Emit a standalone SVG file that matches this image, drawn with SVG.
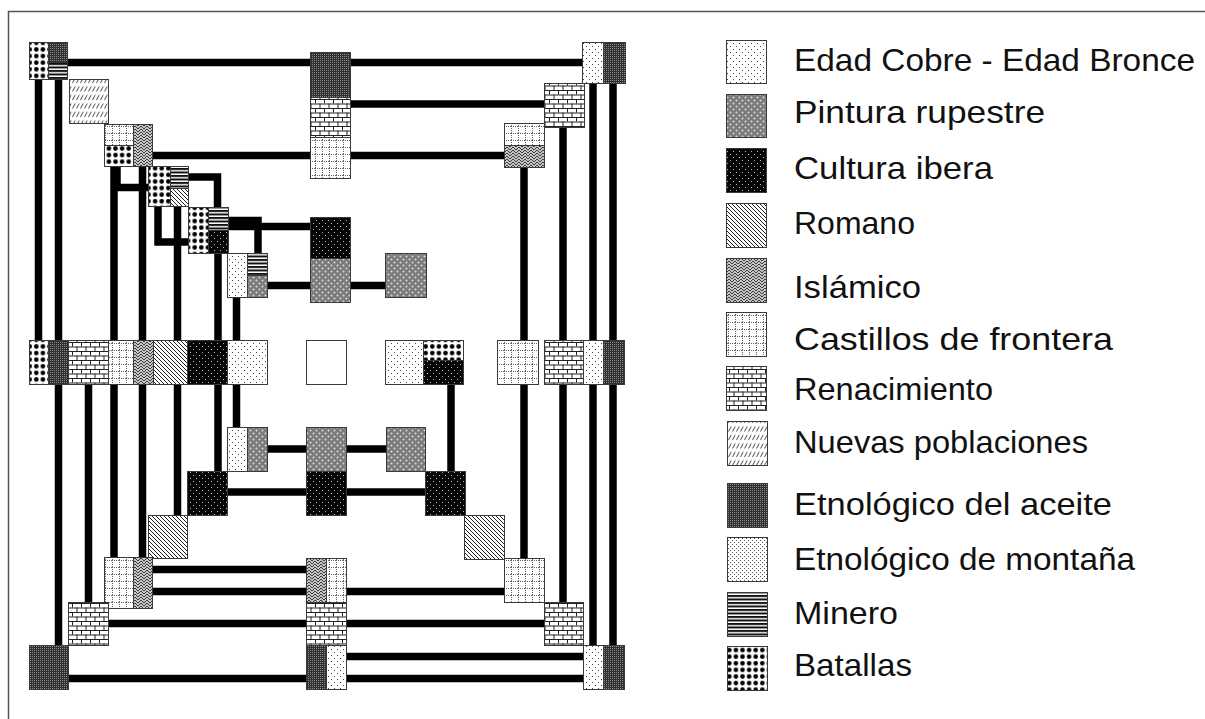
<svg xmlns="http://www.w3.org/2000/svg" width="1205" height="719" viewBox="0 0 1205 719">
<defs>
<pattern id="p-cobre" width="6" height="6" patternUnits="userSpaceOnUse"><rect width="6" height="6" fill="#fff"/><rect x="1" y="1" width="1" height="1" fill="#444"/><rect x="4" y="4" width="1" height="1" fill="#444"/></pattern>
<pattern id="p-montana" width="4" height="4" patternUnits="userSpaceOnUse"><rect width="4" height="4" fill="#fff"/><rect x="0" y="0" width="1" height="1" fill="#555"/><rect x="2" y="2" width="1" height="1" fill="#555"/></pattern>
<pattern id="p-pintura" width="6" height="6" patternUnits="userSpaceOnUse"><rect width="6" height="6" fill="#7a7a7a"/><circle cx="1.5" cy="1.5" r="1" fill="#dcdcdc"/><circle cx="4.5" cy="4.5" r="1" fill="#dcdcdc"/></pattern>
<pattern id="p-ibera" width="6" height="6" patternUnits="userSpaceOnUse"><rect width="6" height="6" fill="#050505"/><rect x="1" y="1" width="1" height="1" fill="#bbb"/><rect x="4" y="4" width="1" height="1" fill="#bbb"/></pattern>
<pattern id="p-romano" width="4" height="4" patternUnits="userSpaceOnUse"><rect width="4" height="4" fill="#fff"/><path d="M0 0L4 4M-1 3L1 5M3 -1L5 1" stroke="#222" stroke-width="1"/></pattern>
<pattern id="p-islamico" width="6" height="6" patternUnits="userSpaceOnUse"><rect width="6" height="6" fill="#c4c4c4"/><path d="M0 3L3 0L6 3M0 6L3 3L6 6" fill="none" stroke="#3c3c3c" stroke-width="1"/></pattern>
<pattern id="p-castillos" width="7" height="7" patternUnits="userSpaceOnUse"><rect width="7" height="7" fill="#fff"/><path d="M0 0.5H7M0.5 0V7" stroke="#666" stroke-width="1" stroke-dasharray="1 1"/></pattern>
<pattern id="p-renac" width="9" height="9" patternUnits="userSpaceOnUse"><rect width="9" height="9" fill="#fff"/><path d="M0 0.5H9M0 5H9M0.5 0V4.5M5 4.5V9" stroke="#222" stroke-width="1" fill="none"/></pattern>
<pattern id="p-nuevas" width="4" height="8.5" patternUnits="userSpaceOnUse"><rect width="4" height="8.5" fill="#fff"/><path d="M0.5 6.5L3.2 1.5" stroke="#333" stroke-width="0.9"/></pattern>
<pattern id="p-aceite" width="2" height="2" patternUnits="userSpaceOnUse"><rect width="2" height="2" fill="#303030"/><rect width="1" height="1" fill="#8a8a8a"/></pattern>
<pattern id="p-minero" width="4" height="3.5" patternUnits="userSpaceOnUse"><rect width="4" height="3.5" fill="#fff"/><rect width="4" height="2" fill="#111"/></pattern>
<pattern id="p-batallas" width="6.6" height="6.6" patternUnits="userSpaceOnUse"><rect width="6.6" height="6.6" fill="#fff"/><circle cx="3.3" cy="3.3" r="2.3" fill="#000"/></pattern>
</defs>
<style>
.t{stroke:#3a3a3a;stroke-width:1}
.cob{fill:url(#p-cobre)}
.mon{fill:url(#p-montana)}
.pin{fill:url(#p-pintura)}
.ibe{fill:url(#p-ibera)}
.rom{fill:url(#p-romano)}
.isl{fill:url(#p-islamico)}
.cas{fill:url(#p-castillos)}
.ren{fill:url(#p-renac)}
.nue{fill:url(#p-nuevas)}
.ace{fill:url(#p-aceite)}
.min{fill:url(#p-minero)}
.bat{fill:url(#p-batallas)}
.wht{fill:#fff}
.bar{stroke:#000;stroke-width:7.5;fill:none;stroke-linecap:butt;stroke-linejoin:miter}
.lg{font-family:"Liberation Sans",Arial,sans-serif;font-size:32px;fill:#111}
</style>
<rect width="1205" height="719" fill="#fff"/>
<path d="M1205 11.5H8.5V719" fill="none" stroke="#555" stroke-width="1.5"/>

<g id="connectors" class="bar">
<path d="M60 62.5H600"/>
<path d="M340 104H560"/>
<path d="M150 155.5H510"/>
<path d="M38.5 78V345"/>
<path d="M58.5 78V650"/>
<path d="M114 160V560"/>
<path d="M142.5 160V560"/>
<path d="M117 166V187.5H150"/>
<path d="M177.5 200V520"/>
<path d="M158 200V242H192"/>
<path d="M185 177H217.5V210"/>
<path d="M218 250V475"/>
<path d="M225 220.5H258V256"/>
<path d="M225 226.5H315"/>
<path d="M236.5 290V430"/>
<path d="M262 285.5H390"/>
<path d="M88.5 380V605"/>
<path d="M593 80V650"/>
<path d="M613 80V650"/>
<path d="M563 120V605"/>
<path d="M524 160V562"/>
<path d="M451 380V475"/>
<path d="M262 449H390"/>
<path d="M222 492H430"/>
<path d="M148 569.5H310"/>
<path d="M148 591.5H508"/>
<path d="M104 623.5H548"/>
<path d="M340 656.5H588"/>
<path d="M64 678.5H588"/>
</g>

<g id="n-tl"><rect class="t bat" x="29.5" y="42.5" width="19" height="37"/><rect class="t ace" x="48.5" y="42.5" width="19" height="20"/><rect class="t min" x="48.5" y="62.5" width="19" height="17"/></g>
<g id="n-tc"><rect class="t ace" x="310.5" y="52.5" width="40" height="45"/><rect class="t ren" x="310.5" y="97.5" width="40" height="40"/><rect class="t cas" x="310.5" y="137.5" width="40" height="41"/></g>
<g id="n-tr"><rect class="t cob" x="582.5" y="42.5" width="21" height="41"/><rect class="t ace" x="603.5" y="42.5" width="22" height="41"/></g>
<g id="n-np"><rect class="t nue" x="69.5" y="79.5" width="39" height="44"/></g>
<g id="n-r1"><rect class="t ren" x="544.5" y="83.5" width="40" height="44"/></g>
<g id="n-l2"><rect class="t cas" x="104.5" y="124.5" width="29" height="21"/><rect class="t bat" x="104.5" y="145.5" width="29" height="21"/><rect class="t isl" x="133.5" y="124.5" width="19" height="42"/></g>
<g id="n-r2"><rect class="t cas" x="504.5" y="123.5" width="40" height="22"/><rect class="t isl" x="504.5" y="145.5" width="40" height="22"/></g>
<g id="n-l3"><rect class="t bat" x="148.5" y="166.5" width="22" height="40"/><rect class="t min" x="170.5" y="166.5" width="18" height="22"/><rect class="t rom" x="170.5" y="188.5" width="18" height="18"/></g>
<g id="n-l4"><rect class="t bat" x="188.5" y="207.5" width="20" height="46"/><rect class="t min" x="208.5" y="207.5" width="20" height="23"/><rect class="t ibe" x="208.5" y="230.5" width="20" height="23"/></g>
<g id="n-l5"><rect class="t cob" x="227.5" y="253.5" width="20" height="44"/><rect class="t min" x="247.5" y="253.5" width="20" height="22"/><rect class="t pin" x="247.5" y="275.5" width="20" height="22"/></g>
<g id="n-c4"><rect class="t ibe" x="310.5" y="217.5" width="40" height="41"/><rect class="t pin" x="310.5" y="258.5" width="40" height="44"/></g>
<g id="n-c5"><rect class="t pin" x="385.5" y="253.5" width="41" height="44"/></g>

<g id="n-m0"><rect class="t bat" x="29.5" y="340.5" width="19" height="44"/><rect class="t ace" x="48.5" y="340.5" width="20" height="44"/></g>
<g id="n-m1"><rect class="t ren" x="68.5" y="340.5" width="40" height="44"/></g>
<g id="n-m2"><rect class="t cas" x="108.5" y="340.5" width="25" height="44"/><rect class="t isl" x="133.5" y="340.5" width="20" height="44"/></g>
<g id="n-m3"><rect class="t rom" x="153.5" y="340.5" width="34" height="44"/></g>
<g id="n-m4"><rect class="t ibe" x="187.5" y="340.5" width="40" height="44"/></g>
<g id="n-m5"><rect class="t cob" x="227.5" y="340.5" width="40" height="44"/></g>
<g id="n-m7"><rect class="t wht" x="306.5" y="340.5" width="40" height="44"/></g>
<g id="n-m9"><rect class="t cob" x="385.5" y="340.5" width="38" height="44"/></g>
<g id="n-m10"><rect class="t bat" x="423.5" y="340.5" width="40" height="20"/><rect class="t ibe" x="423.5" y="360.5" width="40" height="24"/></g>
<g id="n-m12"><rect class="t cas" x="497.5" y="340.5" width="41" height="44"/></g>
<g id="n-m13"><rect class="t ren" x="544.5" y="340.5" width="39" height="44"/></g>
<g id="n-m14"><rect class="t cob" x="583.5" y="340.5" width="20" height="44"/><rect class="t ace" x="603.5" y="340.5" width="21" height="44"/></g>

<g id="n-l9"><rect class="t cob" x="227.5" y="427.5" width="20" height="44"/><rect class="t pin" x="247.5" y="427.5" width="20" height="44"/></g>
<g id="n-c9"><rect class="t pin" x="306.5" y="427.5" width="40" height="44"/><rect class="t ibe" x="306.5" y="471.5" width="40" height="44"/></g>
<g id="n-r9"><rect class="t pin" x="386.5" y="427.5" width="39" height="44"/></g>
<g id="n-l10"><rect class="t ibe" x="187.5" y="471.5" width="40" height="44"/></g>
<g id="n-r10"><rect class="t ibe" x="425.5" y="471.5" width="40" height="44"/></g>
<g id="n-l11"><rect class="t rom" x="148.5" y="515.5" width="39" height="43"/></g>
<g id="n-r11"><rect class="t rom" x="464.5" y="515.5" width="40" height="44"/></g>
<g id="n-l12"><rect class="t cas" x="104.5" y="557.5" width="29" height="51"/><rect class="t isl" x="133.5" y="557.5" width="19" height="51"/></g>
<g id="n-c12"><rect class="t isl" x="306.5" y="558.5" width="20" height="44"/><rect class="t cas" x="326.5" y="558.5" width="20" height="44"/></g>
<g id="n-r12"><rect class="t cas" x="504.5" y="558.5" width="40" height="44"/></g>
<g id="n-l13"><rect class="t ren" x="68.5" y="602.5" width="40" height="43"/></g>
<g id="n-c13"><rect class="t ren" x="306.5" y="602.5" width="40" height="43"/></g>
<g id="n-r13"><rect class="t ren" x="544.5" y="602.5" width="39" height="43"/></g>
<g id="n-l14"><rect class="t ace" x="29.5" y="645.5" width="39" height="44"/></g>
<g id="n-c14"><rect class="t ace" x="306.5" y="645.5" width="20" height="44"/><rect class="t cob" x="326.5" y="645.5" width="20" height="44"/></g>
<g id="n-r14"><rect class="t cob" x="583.5" y="645.5" width="20" height="44"/><rect class="t ace" x="603.5" y="645.5" width="21" height="44"/></g>

<g id="legend">
<g id="lg-cobre"><rect class="t cob" x="726.5" y="40.5" width="40" height="43"/><text class="lg" x="794" y="71" textLength="401" lengthAdjust="spacingAndGlyphs">Edad Cobre - Edad Bronce</text></g>
<g id="lg-pintura"><rect class="t pin" x="726.5" y="94.5" width="40" height="43"/><text class="lg" x="794" y="123" textLength="251" lengthAdjust="spacingAndGlyphs">Pintura rupestre</text></g>
<g id="lg-ibera"><rect class="t ibe" x="726.5" y="148.5" width="40" height="44"/><text class="lg" x="794" y="179" textLength="199" lengthAdjust="spacingAndGlyphs">Cultura ibera</text></g>
<g id="lg-romano"><rect class="t rom" x="726.5" y="203.5" width="40" height="44"/><text class="lg" x="794" y="234">Romano</text></g>
<g id="lg-islamico"><rect class="t isl" x="726.5" y="258.5" width="40" height="44"/><text class="lg" x="794" y="298" textLength="127" lengthAdjust="spacingAndGlyphs">Islámico</text></g>
<g id="lg-castillos"><rect class="t cas" x="726.5" y="312.5" width="40" height="44"/><text class="lg" x="794" y="350" textLength="319" lengthAdjust="spacingAndGlyphs">Castillos de frontera</text></g>
<g id="lg-renac"><rect class="t ren" x="726.5" y="366.5" width="40" height="44"/><text class="lg" x="794" y="400" textLength="199" lengthAdjust="spacingAndGlyphs">Renacimiento</text></g>
<g id="lg-nuevas"><rect class="t nue" x="727.5" y="421.5" width="40" height="44"/><text class="lg" x="794" y="453" textLength="294" lengthAdjust="spacingAndGlyphs">Nuevas poblaciones</text></g>
<g id="lg-aceite"><rect class="t ace" x="727.5" y="483.5" width="40" height="44"/><text class="lg" x="794" y="515" textLength="318" lengthAdjust="spacingAndGlyphs">Etnológico del aceite</text></g>
<g id="lg-montana"><rect class="t mon" x="727.5" y="537.5" width="40" height="44"/><text class="lg" x="794" y="570" textLength="341" lengthAdjust="spacingAndGlyphs">Etnológico de montaña</text></g>
<g id="lg-minero"><rect class="t min" x="727.5" y="592.5" width="40" height="44"/><text class="lg" x="794" y="624" textLength="104" lengthAdjust="spacingAndGlyphs">Minero</text></g>
<g id="lg-batallas"><rect class="t bat" x="727.5" y="646.5" width="40" height="44"/><text class="lg" x="794" y="676" textLength="118" lengthAdjust="spacingAndGlyphs">Batallas</text></g>
</g>
</svg>
